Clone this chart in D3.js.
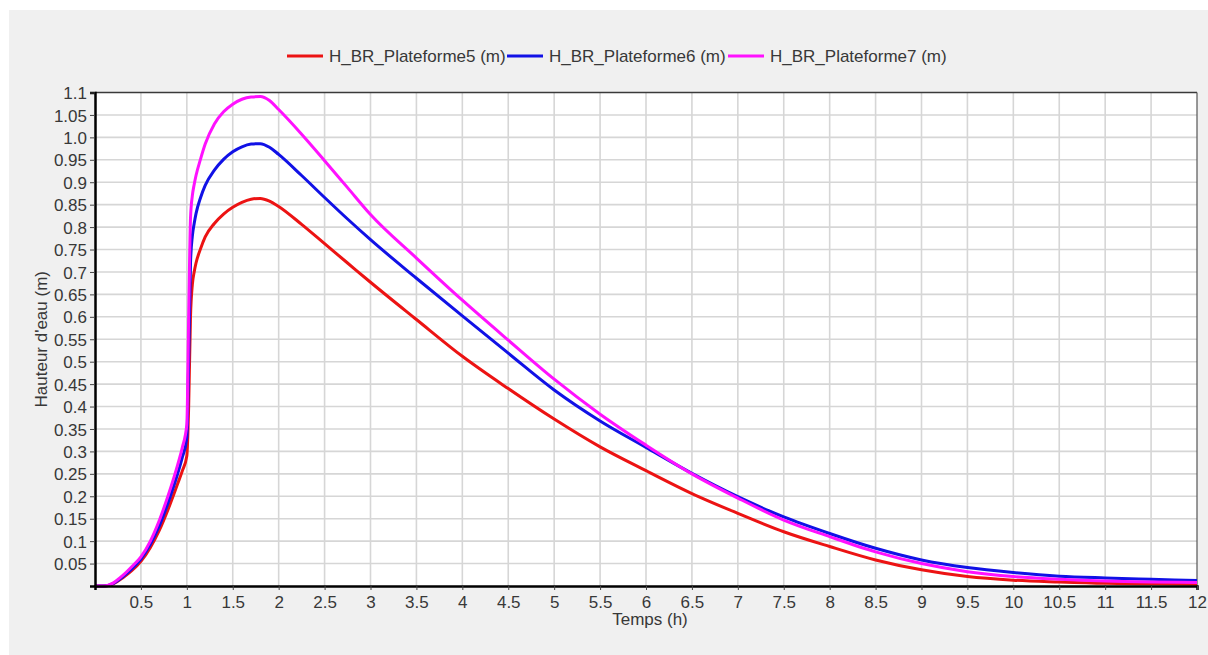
<!DOCTYPE html>
<html>
<head>
<meta charset="utf-8">
<script src="https://cdn.jsdelivr.net/npm/d3@7/dist/d3.min.js"></script>
<style>
  html, body { margin: 0; padding: 0; background: #ffffff; }
  svg { display: block; font-family: "Liberation Sans", Arial, sans-serif; }
</style>
</head>
<body>
<svg id="chart" width="1208" height="655"></svg>
<script>
// Time axis (hours) shared by the three water-level series
const temps = [0, 0.1, 0.2, 0.3, 0.4, 0.5, 0.6, 0.7, 0.8, 0.9, 0.95, 1.0, 1.02, 1.04, 1.06, 1.08, 1.1, 1.15, 1.2, 1.3, 1.4, 1.5, 1.6, 1.7, 1.8, 1.9, 2.0, 2.25, 2.5, 2.75, 3.0, 3.5, 4.0, 4.5, 5.0, 5.5, 6.0, 6.5, 7.0, 7.5, 8.0, 8.5, 9.0, 9.5, 10, 10.5, 11, 11.5, 12];

// Water height (m) per platform
const plateforme5 = [0, 0.0, 0.005, 0.018, 0.034, 0.055, 0.085, 0.124, 0.173, 0.228, 0.256, 0.29, 0.40, 0.60, 0.672, 0.70, 0.72, 0.752, 0.778, 0.808, 0.829, 0.844, 0.855, 0.862, 0.864, 0.858, 0.846, 0.806, 0.763, 0.72, 0.677, 0.594, 0.512, 0.44, 0.372, 0.31, 0.257, 0.206, 0.162, 0.121, 0.088, 0.058, 0.036, 0.021, 0.013, 0.009, 0.006, 0.005, 0.004];
const plateforme6 = [0, 0.0, 0.006, 0.02, 0.038, 0.06, 0.092, 0.134, 0.188, 0.25, 0.286, 0.33, 0.50, 0.72, 0.78, 0.808, 0.83, 0.866, 0.893, 0.927, 0.951, 0.968, 0.979, 0.985, 0.986, 0.978, 0.962, 0.915, 0.866, 0.818, 0.772, 0.686, 0.602, 0.519, 0.437, 0.368, 0.309, 0.251, 0.199, 0.154, 0.117, 0.084, 0.058, 0.041, 0.03, 0.022, 0.018, 0.015, 0.012];
const plateforme7 = [0, 0.0, 0.007, 0.023, 0.043, 0.065, 0.099, 0.146, 0.204, 0.27, 0.308, 0.36, 0.60, 0.82, 0.87, 0.895, 0.915, 0.952, 0.985, 1.03, 1.057, 1.074, 1.085, 1.09, 1.091, 1.082, 1.062, 1.007, 0.948, 0.888, 0.828, 0.731, 0.637, 0.548, 0.461, 0.383, 0.314, 0.25, 0.196, 0.147, 0.11, 0.076, 0.05, 0.032, 0.021, 0.015, 0.011, 0.009, 0.008];

const seriesNames = ["H_BR_Plateforme5 (m)", "H_BR_Plateforme6 (m)", "H_BR_Plateforme7 (m)"];
const seriesColors = ["#ec1313", "#1111e6", "#ff11ff"];

const xTicks = [0.5, 1, 1.5, 2, 2.5, 3, 3.5, 4, 4.5, 5, 5.5, 6, 6.5, 7, 7.5, 8, 8.5, 9, 9.5, 10, 10.5, 11, 11.5, 12];
const xTickLabels = ["0.5", "1", "1.5", "2", "2.5", "3", "3.5", "4", "4.5", "5", "5.5", "6", "6.5", "7", "7.5", "8", "8.5", "9", "9.5", "10", "10.5", "11", "11.5", "12"];
const yTicks = [0.05, 0.1, 0.15, 0.2, 0.25, 0.3, 0.35, 0.4, 0.45, 0.5, 0.55, 0.6, 0.65, 0.7, 0.75, 0.8, 0.85, 0.9, 0.95, 1.0, 1.05, 1.1];
const yTickLabels = ["0.05", "0.1", "0.15", "0.2", "0.25", "0.3", "0.35", "0.4", "0.45", "0.5", "0.55", "0.6", "0.65", "0.7", "0.75", "0.8", "0.85", "0.9", "0.95", "1.0", "1.05", "1.1"];

const series = [plateforme5, plateforme6, plateforme7].map((vals, i) => ({
  name: seriesNames[i],
  color: seriesColors[i],
  points: temps.map((t, j) => ({ t: t, v: vals[j] }))
}));

const svg = d3.select("#chart");
const W = 1208, H = 655;
const plot = { left: 95, right: 1197, top: 92.5, bottom: 586 };
const textColor = "#383838";

// panel background
svg.append("rect").attr("x", 9).attr("y", 10).attr("width", W - 9).attr("height", H - 10).attr("fill", "#f0f0f0");

const x = d3.scaleLinear().domain([0, 12]).range([plot.left, plot.right]);
const y = d3.scaleLinear().domain([0, 1.1]).range([plot.bottom, plot.top]);

// plot area
svg.append("rect")
  .attr("x", plot.left).attr("y", plot.top)
  .attr("width", plot.right - plot.left).attr("height", plot.bottom - plot.top)
  .attr("fill", "#ffffff");

// grid
const grid = svg.append("g").attr("stroke", "#d6d6d6").attr("stroke-width", 1.6);
grid.selectAll("line.v").data(xTicks.filter(d => d < 12)).enter().append("line")
  .attr("x1", d => x(d)).attr("x2", d => x(d))
  .attr("y1", plot.top).attr("y2", plot.bottom);
grid.selectAll("line.h").data(yTicks.filter(d => d < 1.1)).enter().append("line")
  .attr("x1", plot.left).attr("x2", plot.right)
  .attr("y1", d => y(d)).attr("y2", d => y(d));

// top and right frame
svg.append("line").attr("x1", plot.left).attr("x2", plot.right).attr("y1", plot.top).attr("y2", plot.top)
  .attr("stroke", "#3a3a3a").attr("stroke-width", 1.5);
svg.append("line").attr("x1", plot.right).attr("x2", plot.right).attr("y1", plot.top).attr("y2", plot.bottom)
  .attr("stroke", "#555555").attr("stroke-width", 1.2);

// lines
const line = d3.line().x(d => x(d.t)).y(d => y(d.v)).curve(d3.curveMonotoneX);
svg.append("g").selectAll("path").data(series).enter().append("path")
  .attr("d", d => line(d.points))
  .attr("fill", "none")
  .attr("stroke", d => d.color)
  .attr("stroke-width", 3)
  .attr("stroke-linejoin", "round");

// axes
const xAxis = d3.axisBottom(x).tickValues(xTicks).tickFormat((d, i) => xTickLabels[i]).tickSize(4).tickPadding(6);
const yAxis = d3.axisLeft(y).tickValues(yTicks).tickFormat((d, i) => yTickLabels[i]).tickSize(5).tickPadding(3);

const gx = svg.append("g").attr("transform", `translate(0,${plot.bottom})`).call(xAxis);
const gy = svg.append("g").attr("transform", `translate(${plot.left},0)`).call(yAxis);

[gx, gy].forEach(g => {
  g.select(".domain").attr("stroke", "#000").attr("stroke-width", 2.5);
  g.selectAll(".tick line").attr("stroke", "#444");
  g.selectAll(".tick text").attr("fill", textColor)
    .style("font-family", "'Liberation Sans', Arial, sans-serif").style("font-size", "17px");
});
gy.selectAll(".tick text").attr("dy", "0.36em");

// axis titles
svg.append("text").attr("x", 650).attr("y", 625)
  .attr("text-anchor", "middle").attr("fill", textColor).style("font-size", "17px")
  .text("Temps (h)");
svg.append("text").attr("transform", `translate(47,${(plot.top + plot.bottom) / 2}) rotate(-90)`)
  .attr("text-anchor", "middle").attr("fill", textColor).style("font-size", "17px")
  .text("Hauteur d'eau (m)");

// legend
const legendX = [287, 507, 728];
const lg = svg.append("g").selectAll("g").data(series).enter().append("g")
  .attr("transform", (d, i) => `translate(${legendX[i]},56)`);
lg.append("line").attr("x1", 0).attr("x2", 36).attr("y1", 0).attr("y2", 0)
  .attr("stroke", d => d.color).attr("stroke-width", 3);
lg.append("text").attr("x", 42).attr("y", 0).attr("dy", "0.35em")
  .attr("fill", textColor).style("font-size", "17px")
  .text(d => d.name);
</script>
</body>
</html>
